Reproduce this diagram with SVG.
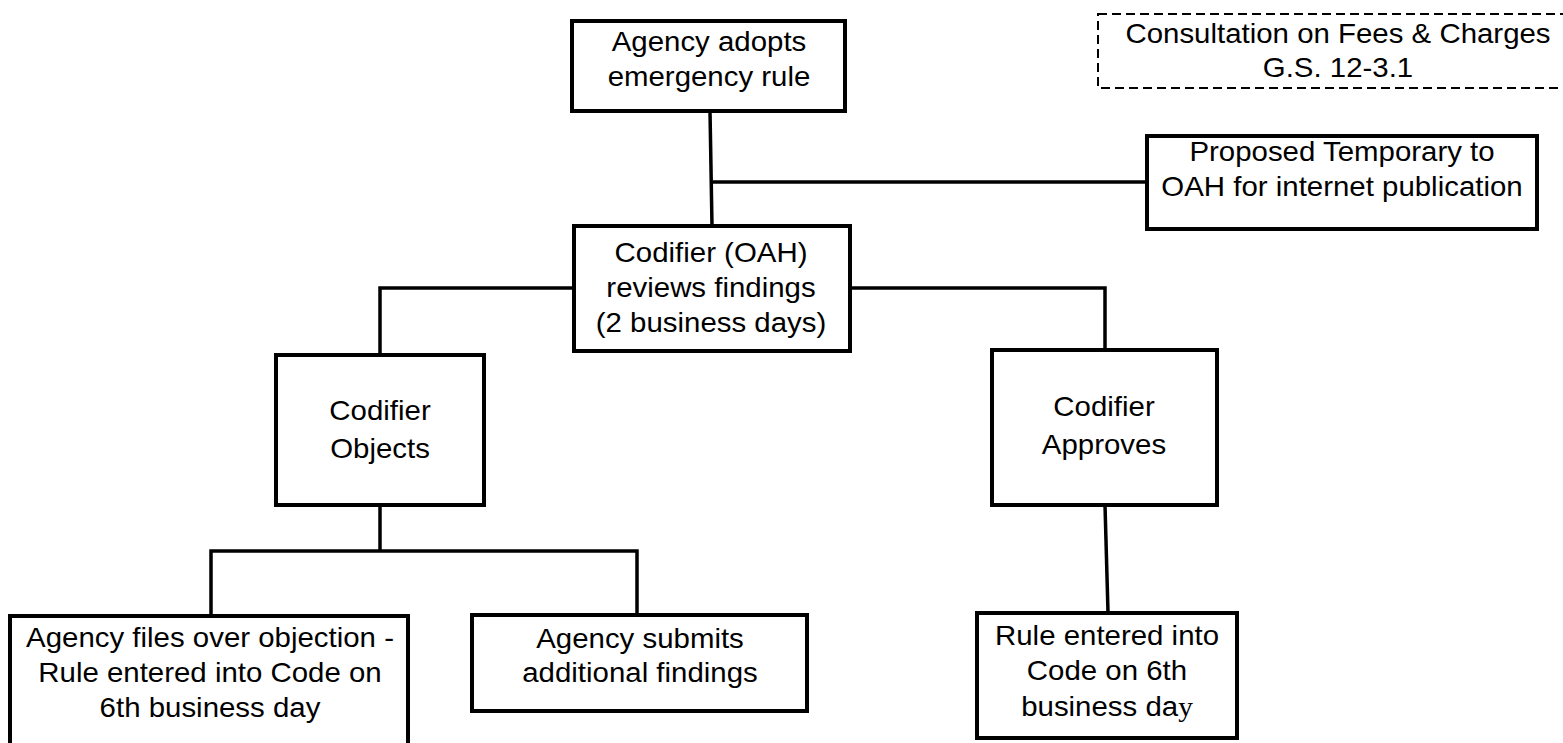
<svg xmlns="http://www.w3.org/2000/svg" width="1563" height="743" viewBox="0 0 1563 743">
<style>
.box{fill:#fff;stroke:#000;stroke-width:4}
.dash{fill:none;stroke:#000;stroke-width:2;stroke-dasharray:9 5}
.ln{fill:none;stroke:#000;stroke-width:3.5}
.t{font-family:"Liberation Sans",Arial,sans-serif;font-size:27.5px;fill:#000;text-anchor:middle}
</style>
<rect width="1563" height="743" fill="#fff"/>
<g id="connectors">
<path class="ln" d="M710 111 L712 226"/>
<path class="ln" d="M713 182 L1147 182"/>
<path class="ln" d="M574 288 L380 288 L380 355"/>
<path class="ln" d="M850 288 L1105 288 L1105 350"/>
<path class="ln" d="M380 505 L380 551"/>
<path class="ln" d="M211 615 L211 551 L637 551 L637 615"/>
<path class="ln" d="M1105 505 L1108 612"/>
</g>
<g id="consultation">
<rect class="dash" x="1098" y="14" width="480" height="74"/>
<g transform="translate(1338 0) scale(1.07 1)"><text class="t" x="0" y="43">Consultation on Fees &amp; Charges</text><text class="t" x="0" y="77">G.S. 12-3.1</text></g>
</g>
<g id="adopt">
<rect class="box" x="572" y="21" width="273" height="90"/>
<g transform="translate(709 0) scale(1.07 1)"><text class="t" x="0" y="51">Agency adopts</text><text class="t" x="0" y="86">emergency rule</text></g>
</g>
<g id="proposed">
<rect class="box" x="1147" y="136" width="390" height="93"/>
<g transform="translate(1342 0) scale(1.07 1)"><text class="t" x="0" y="161">Proposed Temporary to</text><text class="t" x="0" y="196">OAH for internet publication</text></g>
</g>
<g id="codifier">
<rect class="box" x="574" y="226" width="276" height="125"/>
<g transform="translate(711 0) scale(1.07 1)"><text class="t" x="0" y="262">Codifier (OAH)</text><text class="t" x="0" y="297">reviews findings</text><text class="t" x="0" y="332">(2 business days)</text></g>
</g>
<g id="objects">
<rect class="box" x="276" y="355" width="208" height="150"/>
<g transform="translate(380 0) scale(1.07 1)"><text class="t" x="0" y="420">Codifier</text><text class="t" x="0" y="458">Objects</text></g>
</g>
<g id="approves">
<rect class="box" x="992" y="350" width="225" height="155"/>
<g transform="translate(1104 0) scale(1.07 1)"><text class="t" x="0" y="416">Codifier</text><text class="t" x="0" y="454">Approves</text></g>
</g>
<g id="overobjection">
<rect class="box" x="10" y="616" width="398" height="150"/>
<g transform="translate(210 0) scale(1.07 1)"><text class="t" x="0" y="647">Agency files over objection -</text><text class="t" x="0" y="682">Rule entered into Code on</text><text class="t" x="0" y="717">6th business day</text></g>
</g>
<g id="submits">
<rect class="box" x="472" y="615" width="335" height="96"/>
<g transform="translate(640 0) scale(1.07 1)"><text class="t" x="0" y="648">Agency submits</text><text class="t" x="0" y="682">additional findings</text></g>
</g>
<g id="entered">
<rect class="box" x="977" y="613" width="260" height="125"/>
<g transform="translate(1107 0) scale(1.07 1)"><text class="t" x="0" y="645">Rule entered into</text><text class="t" x="0" y="680">Code on 6th</text><text class="t" x="0" y="716">business da<tspan style="font-family:'Liberation Serif',serif">y</tspan></text></g>
</g>
</svg>
